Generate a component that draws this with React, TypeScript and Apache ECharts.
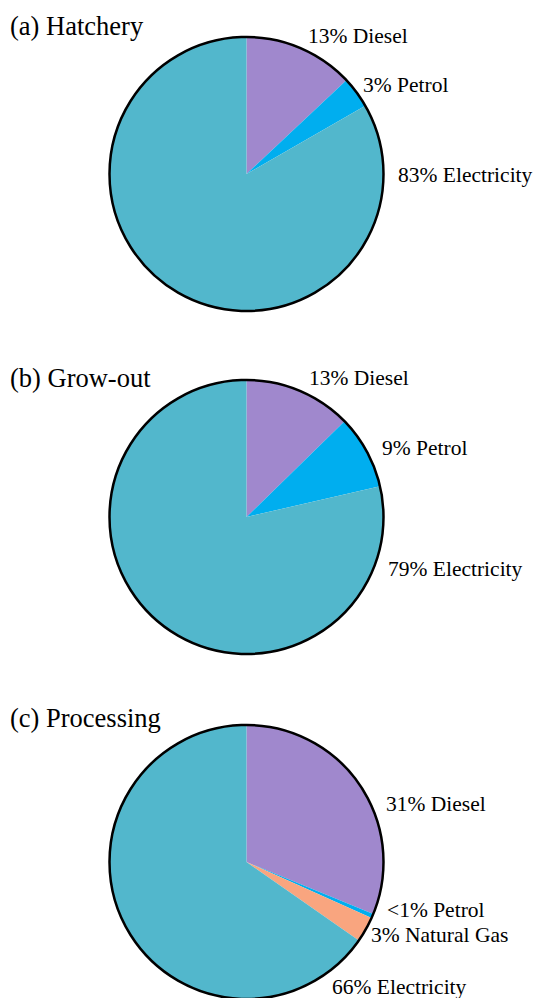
import React, { useEffect, useRef } from "react";
import * as echarts from "echarts";

const categoriesA = ["Diesel", "Petrol", "Electricity"];
const valuesA = [13, 3.7, 83.3];
const pctA = ["13%", "3%", "83%"];

const categoriesB = ["Diesel", "Petrol", "Electricity"];
const valuesB = [12.7, 8.7, 78.6];
const pctB = ["13%", "9%", "79%"];

const categoriesC = ["Diesel", "Petrol", "Natural Gas", "Electricity"];
const valuesC = [31.2, 0.5, 3, 65.3];
const pctC = ["31%", "<1%", "3%", "66%"];

const titles = ["(a) Hatchery", "(b) Grow-out", "(c) Processing"];

const COLORS: Record<string, string> = {
  Diesel: "#A088CD",
  Petrol: "#00AEEF",
  "Natural Gas": "#F9A57F",
  Electricity: "#52B7CC",
};

// layout (positions only)
const CENTERS: [number, number][] = [
  [246.5, 174],
  [246.5, 517],
  [246.5, 862],
];
const RADIUS = 137;
const TITLE_POS: [number, number][] = [
  [10, 26],
  [10, 378],
  [10, 718],
];
const LABEL_POS: [number, number][][] = [
  [
    [308, 36],
    [363, 85],
    [398, 175],
  ],
  [
    [309, 378],
    [382, 448],
    [388, 569],
  ],
  [
    [386, 804],
    [387, 910],
    [371, 935],
    [332, 987],
  ],
];

const FONT = "Liberation Serif";

export default function App() {
  const ref = useRef<HTMLDivElement>(null);
  useEffect(() => {
    document.body.style.margin = "0";
    if (!ref.current) return;
    const chart = echarts.init(ref.current, undefined, { renderer: "svg" });
    const sets = [
      { cats: categoriesA, vals: valuesA, pct: pctA },
      { cats: categoriesB, vals: valuesB, pct: pctB },
      { cats: categoriesC, vals: valuesC, pct: pctC },
    ];
    const series = sets.map((s, si) => ({
      type: "pie",
      center: CENTERS[si],
      radius: RADIUS,
      startAngle: 90,
      clockwise: true,
      silent: true,
      avoidLabelOverlap: false,
      itemStyle: { borderWidth: 0 },
      label: {
        show: true,
        position: "outside",
        fontFamily: FONT,
        fontSize: 21.5,
        color: "#000",
        formatter: (p: any) => `${s.pct[p.dataIndex]} ${p.name}`,
      },
      labelLine: { show: false },
      labelLayout: (p: any) => {
        const pos = LABEL_POS[si][p.dataIndex];
        return { x: pos[0], y: pos[1], align: "left", verticalAlign: "middle" };
      },
      data: s.cats.map((c, i) => ({
        name: c,
        value: s.vals[i],
        itemStyle: { color: COLORS[c] },
      })),
    }));
    const graphic: any[] = [];
    CENTERS.forEach((c) => {
      graphic.push({
        type: "circle",
        shape: { cx: c[0], cy: c[1], r: RADIUS },
        style: { fill: "none", stroke: "#000", lineWidth: 2.5 },
        z: 100,
        silent: true,
      });
    });
    titles.forEach((t, i) => {
      graphic.push({
        type: "text",
        x: TITLE_POS[i][0],
        y: TITLE_POS[i][1],
        style: {
          text: t,
          fontFamily: FONT,
          fontSize: 26.5,
          fill: "#000",
          verticalAlign: "middle",
          align: "left",
        },
      });
    });
    chart.setOption({
      animation: false,
      backgroundColor: "#fff",
      series,
      graphic,
    } as any);
    return () => chart.dispose();
  }, []);
  return <div ref={ref} style={{ width: 536, height: 998 }} />;
}
